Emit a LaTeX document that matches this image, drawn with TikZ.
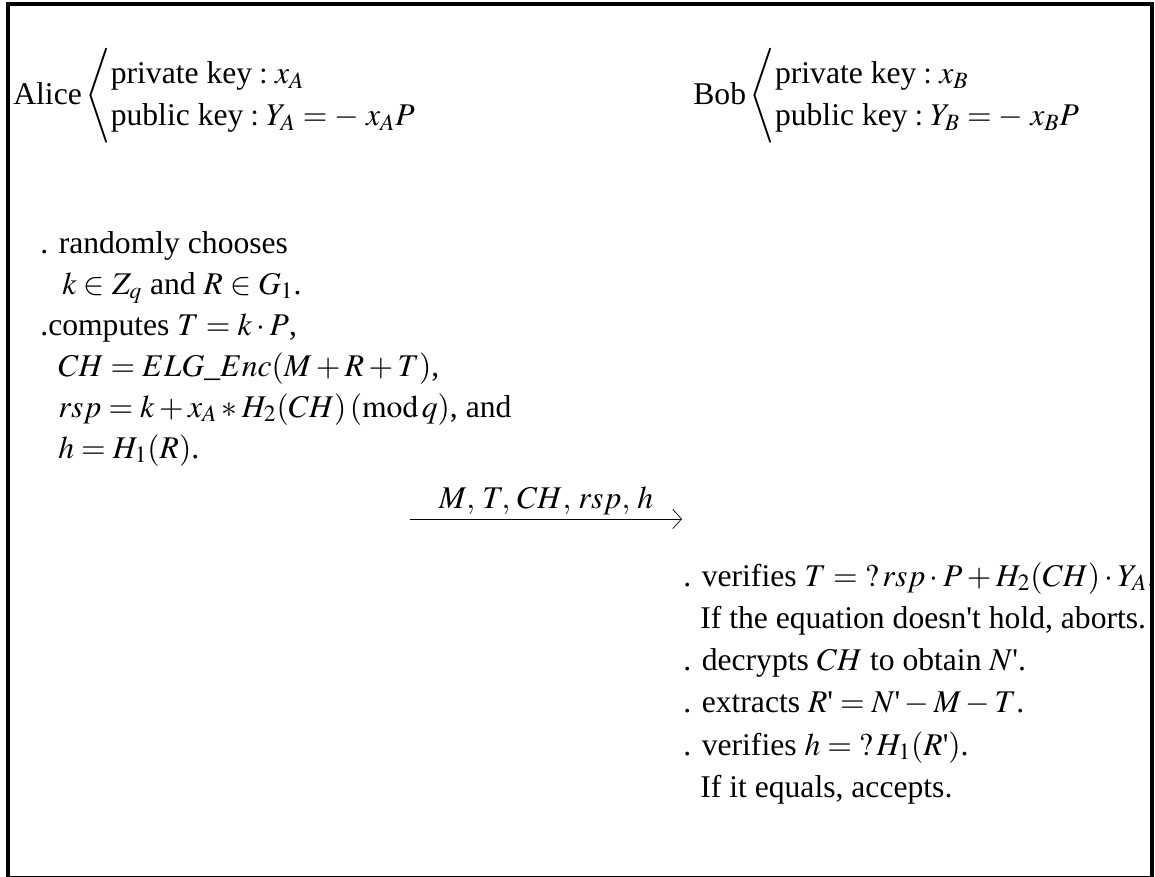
\documentclass[tikz,border=0pt]{standalone}
\usepackage{amsmath}
\usepackage{mathptmx}
\usepackage{fontspec}
\setmainfont{Liberation Serif}
\usetikzlibrary{arrows.meta}
\newcommand{\apos}{\text{\textquotesingle}}
\begin{document}
\begin{tikzpicture}[x=0.02cm, y=-0.02cm,
    line/.style={anchor=base west, inner sep=0pt, font=\fontsize{18}{24}\selectfont}]
    \useasboundingbox (0,0) rectangle (1155,876);
    \draw[line width=0.08cm] (8,4) rectangle (1152,878);
    % key pairs
    \node[line] (alice) at (13,104) {Alice$\,\left\langle\begin{array}{@{}l@{}}\text{private key} : x_A\\ \text{public key} : Y_A = -\; x_AP\end{array}\right.$};
    \node[line] (bob) at (693,104) {Bob$\,\left\langle\begin{array}{@{}l@{}}\text{private key} : x_B\\ \text{public key} : Y_B = -\; x_BP\end{array}\right.$};
    % Alice side
    \node[line] (choose) at (40,253) {. randomly chooses};
    \node[line] (pick) at (62,294) {$k \in Z_q$ and $R \in G_1$.};
    \node[line] (comp) at (40,335) {.computes $T = k\cdot P$,};
    \node[line] (enc) at (58,376) {$CH = ELG\_Enc(M + R + T)$,};
    \node[line] (rsp) at (58,417) {$rsp = k + x_A * H_2(CH)\,(\mathrm{mod}\,q)$, and};
    \node[line] (hash) at (58,458) {$h = H_1(R)$.};
    % message
    \coordinate (send) at (410,519);
    \coordinate (recv) at (682,519);
    \draw[-{Straight Barb[length=5pt,width=11pt]}] (send) -- node[above, inner sep=2pt, font=\fontsize{18}{24}\selectfont] (msg) {$M,\,T,\,CH,\,rsp,\,h$} (recv);
    % Bob side
    \node[line] (ver) at (683,586) {. verifies $T = {?}\,rsp\cdot P + H_2(CH)\cdot Y_A$.};
    \node[line] (abort) at (700,628) {If the equation doesn\textquotesingle t hold, aborts.};
    \node[line] (dec) at (683,670) {. decrypts $CH$ to obtain $N\apos$.};
    \node[line] (ext) at (683,712) {. extracts $R\apos = N\apos - M - T$.};
    \node[line] (verh) at (683,755) {. verifies $h = {?}\,H_1(R\apos)$.};
    \node[line] (acc) at (700,797) {If it equals, accepts.};
\end{tikzpicture}
\end{document}
